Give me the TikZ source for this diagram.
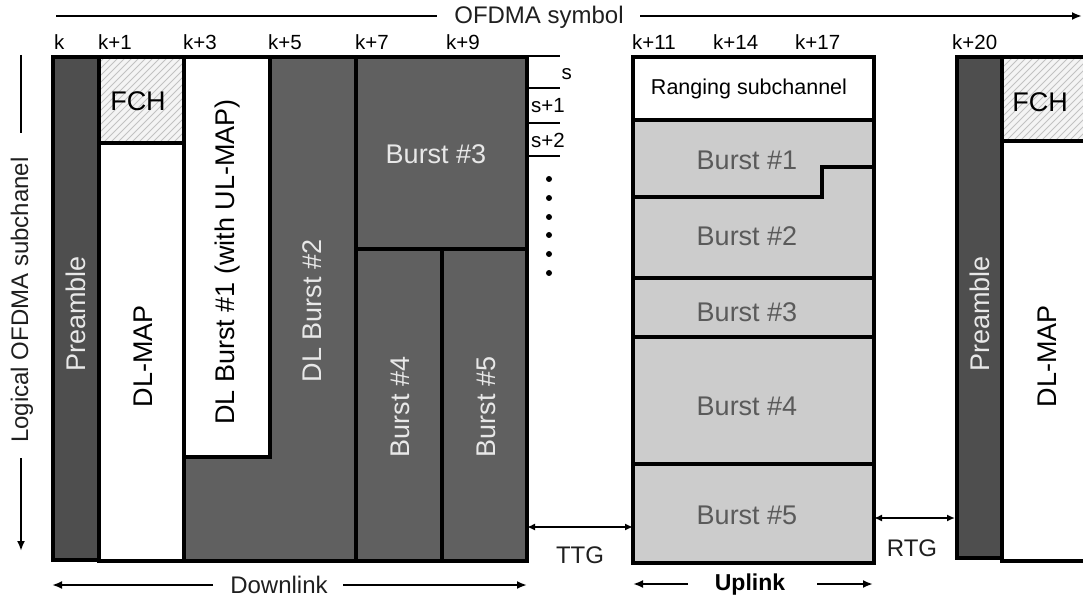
\documentclass[tikz,border=0pt]{standalone}
\usepackage{fontspec}
\setmainfont{Liberation Sans}
\usetikzlibrary{arrows.meta}
\definecolor{pregray}{HTML}{4E4E4E}
\definecolor{dlgray}{HTML}{606060}
\definecolor{ulgray}{HTML}{CCCCCC}
\definecolor{ultext}{HTML}{5A5A5A}
\definecolor{lighttext}{HTML}{E8E8E8}
\definecolor{hatchbg}{HTML}{F4F4F4}
\definecolor{hatchln}{HTML}{C2C2C2}
\begin{document}
\begin{tikzpicture}[x=1pt,y=-1pt,
  cell/.style={draw=black, line width=3.5pt, anchor=north west, inner sep=0pt, outer sep=0pt},
  hatched/.style={cell, fill=hatchbg, path picture={
      \foreach \i in {0,7,...,300}
        \draw[hatchln, line width=0.8pt] ([xshift=\i pt-150pt]path picture bounding box.south west) -- ++(150pt,150pt);}},
  big/.style={font=\fontsize{27}{27}\selectfont, inner sep=0pt},
  mid/.style={font=\fontsize{24}{24}\selectfont, inner sep=0pt, text=black!88},
  small/.style={font=\fontsize{20.5}{20.5}\selectfont, inner sep=0pt, anchor=base west},
  axis/.style={line width=2.2pt},
  tip/.style={-{Latex[length=10pt,width=8pt]}},
  dtip/.style={{Latex[length=8pt,width=7pt]}-{Latex[length=8pt,width=7pt]}, line width=2pt},
  tick/.style={line width=1.5pt},
]
\useasboundingbox (0,0) rectangle (1083,601);
\clip (0,0) rectangle (1083,601);

% ---- top axis ----
\coordinate (topL) at (56,16);
\coordinate (topLe) at (437,16);
\node[mid] (ofdma) at (539,17) {OFDMA symbol};
\coordinate (topRs) at (640,16);
\coordinate (topR) at (1082,16);
\draw[axis] (topL) -- (topLe);
\draw[axis, tip] (topRs) -- (topR);

% ---- k labels ----
\node[small] (k0) at (54,50) {k};
\node[small] (k1) at (98,50) {k+1};
\node[small] (k3) at (183,50) {k+3};
\node[small] (k5) at (268,50) {k+5};
\node[small] (k7) at (355,50) {k+7};
\node[small] (k9) at (446,50) {k+9};
\node[small] (k11) at (632,50) {k+11};
\node[small] (k14) at (713,50) {k+14};
\node[small] (k17) at (795,50) {k+17};
\node[small] (k20) at (952,50) {k+20};

% ---- left axis ----
\coordinate (lax1) at (21,55);
\coordinate (lax2) at (21,133);
\coordinate (lax3) at (21,458);
\coordinate (lax4) at (21,551);
\draw[axis] (lax1) -- (lax2);
\node[mid, rotate=90] (logical) at (22,300) {Logical OFDMA subchanel};
\draw[axis, tip] (lax3) -- (lax4);

% ---- downlink subframe ----
\node[cell, fill=pregray, minimum width=46, minimum height=503] (preL) at (53,57) {};
\node[hatched, minimum width=85, minimum height=86] (fchL) at (99,57) {};
\node[cell, fill=white, minimum width=85, minimum height=418] (dlmapL) at (99,143) {};
\filldraw[fill=dlgray, draw=black, line width=3.5pt]
  (270,57) -- (356,57) -- (356,561) -- (184,561) -- (184,457) -- (270,457) -- cycle;
\node[cell, fill=white, minimum width=86, minimum height=400] (dlb1) at (184,57) {};
\node[cell, fill=dlgray, minimum width=171, minimum height=192] (b3) at (356,57) {};
\node[cell, fill=dlgray, minimum width=86, minimum height=312] (b4) at (356,249) {};
\node[cell, fill=dlgray, minimum width=85, minimum height=312] (b5) at (442,249) {};

\node[big, rotate=90, text=lighttext] (preLT) at (76,314) {Preamble};
\node[big] (fchLT) at (138,101) {FCH};
\node[big, rotate=90] (dlmapLT) at (143,356) {DL-MAP};
\node[big, rotate=90] (dlb1T) at (228,262) {DL Burst \#1 (with UL-MAP)};
\node[big, rotate=90, text=lighttext] (dlb2T) at (312,311) {DL Burst \#2};
\node[big, text=lighttext] (b3T) at (436,154) {Burst \#3};
\node[big, rotate=90, text=lighttext] (b4T) at (400,407) {Burst \#4};
\node[big, rotate=90, text=lighttext] (b5T) at (486,407) {Burst \#5};

% ---- subchannel ticks ----
\draw[tick] (527,56) -- (560,56);
\draw[tick] (527,88) -- (560,88);
\draw[tick] (527,123) -- (560,123);
\draw[tick] (527,156) -- (560,156);
\node[small, anchor=east] (s0) at (572,74) {s};
\node[small, anchor=west] (s1) at (531,106) {s+1};
\node[small, anchor=west] (s2) at (531,140) {s+2};
\foreach \yy in {179,198,217,235,254,273}
  \fill (549,\yy) circle (3pt);

% ---- uplink subframe ----
\node[cell, fill=white, minimum width=241, minimum height=63] (rng) at (633,57) {};
\filldraw[fill=ulgray, draw=black, line width=3.5pt]
  (633,120) -- (874,120) -- (874,167) -- (822,167) -- (822,197) -- (633,197) -- cycle;
\filldraw[fill=ulgray, draw=black, line width=3.5pt]
  (633,197) -- (822,197) -- (822,167) -- (874,167) -- (874,278) -- (633,278) -- cycle;
\node[cell, fill=ulgray, minimum width=241, minimum height=59] (ub3) at (633,278) {};
\node[cell, fill=ulgray, minimum width=241, minimum height=127] (ub4) at (633,337) {};
\node[cell, fill=ulgray, minimum width=241, minimum height=99] (ub5) at (633,464) {};

\node[font=\fontsize{21.5}{21.5}\selectfont, inner sep=0pt] (rngT) at (749,89) {Ranging subchannel};
\node[big, text=ultext] (ub1T) at (747,160) {Burst \#1};
\node[big, text=ultext] (ub2T) at (747,236) {Burst \#2};
\node[big, text=ultext] (ub3T) at (747,312) {Burst \#3};
\node[big, text=ultext] (ub4T) at (747,406) {Burst \#4};
\node[big, text=ultext] (ub5T) at (747,515) {Burst \#5};

% ---- next frame ----
\node[cell, fill=pregray, minimum width=45, minimum height=501] (preR) at (957,57) {};
\node[hatched, minimum width=110, minimum height=84] (fchR) at (1002,57) {};
\node[cell, fill=white, minimum width=110, minimum height=420] (dlmapR) at (1002,141) {};
\node[big, rotate=90, text=lighttext] (preRT) at (980,314) {Preamble};
\node[big] (fchRT) at (1040,102) {FCH};
\node[big, rotate=90] (dlmapRT) at (1047,356) {DL-MAP};

% ---- gaps ----
\coordinate (ttgA) at (527,527);
\coordinate (ttgB) at (633,527);
\draw[dtip] (ttgA) -- (ttgB);
\node[mid] (ttg) at (580,555) {TTG};
\coordinate (rtgA) at (874,518);
\coordinate (rtgB) at (955,518);
\draw[dtip] (rtgA) -- (rtgB);
\node[mid] (rtg) at (912,548) {RTG};

% ---- bottom labels ----
\node[mid] (dl) at (279,585) {Downlink};
\coordinate (dlA) at (213,585);
\coordinate (dlAt) at (52,585);
\coordinate (dlB) at (343,585);
\coordinate (dlBt) at (527,585);
\draw[axis, tip] (dlA) -- (dlAt);
\draw[axis, tip] (dlB) -- (dlBt);

\node[font=\fontsize{23}{23}\selectfont\bfseries, inner sep=0pt] (ul) at (750,585) {Uplink};
\coordinate (ulA) at (688,584);
\coordinate (ulAt) at (633,584);
\coordinate (ulB) at (817,584);
\coordinate (ulBt) at (873,584);
\draw[axis, tip] (ulA) -- (ulAt);
\draw[axis, tip] (ulB) -- (ulBt);
\end{tikzpicture}
\end{document}
